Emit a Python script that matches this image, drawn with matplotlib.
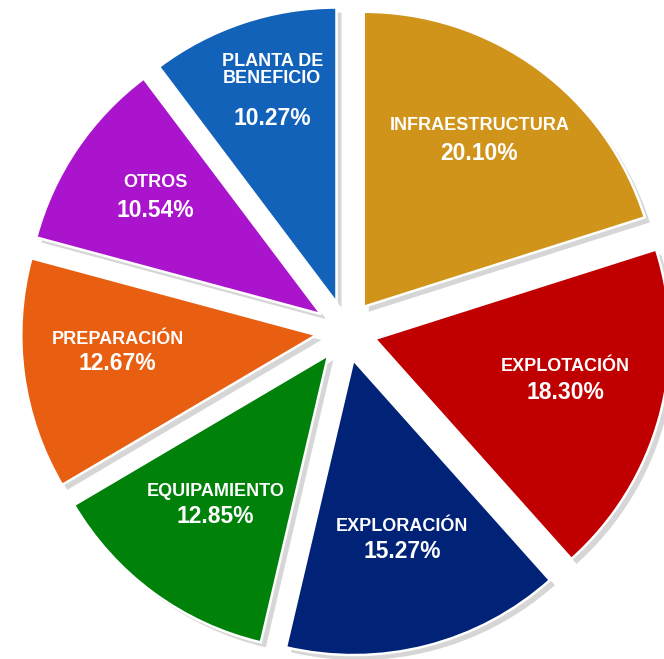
import numpy as np
import matplotlib
matplotlib.use("Agg")
import matplotlib.pyplot as plt
from matplotlib.patches import Shadow

# ---- data ----
categories = ["INFRAESTRUCTURA", "EXPLOTACIÓN", "EXPLORACIÓN", "EQUIPAMIENTO",
              "PREPARACIÓN", "OTROS", "PLANTA DE\nBENEFICIO"]
values = [20.10, 18.30, 15.27, 12.85, 12.67, 10.54, 10.27]
pct_labels = ["20.10%", "18.30%", "15.27%", "12.85%", "12.67%", "10.54%", "10.27%"]

# ---- style ----
colors = ["#D0941A", "#C00000", "#002378", "#00820A", "#E85F12", "#A914CC", "#1262BA"]
label_frac = [0.69, 0.66, 0.627, 0.63, 0.675, 0.69, 0.74]
label_dang = [1.5, 3.4, 0.9, -0.9, -3.1, -1.3, -1.4]
name_dy = [14, 13, 12, 12, 12, 14, 24]
pct_dy = [14, 13, 13, 13, 12, 14, 25]

W, H = 664, 659
fig = plt.figure(figsize=(W / 100, H / 100), dpi=100)
ax = fig.add_axes([0, 0, 1, 1])

cx, cy, R = 346, H - 331, 295
wedges, _ = ax.pie(values, colors=colors, startangle=90, counterclock=False,
                   explode=[30] * len(values), radius=R, center=(cx, cy),
                   wedgeprops=dict(edgecolor="white", linewidth=1.8))

for w in wedges:
    sh = Shadow(w, 3.6, -3.6, facecolor="#d6d6d6", edgecolor="none", alpha=1.0)
    sh.set_zorder(w.get_zorder() - 0.5)
    ax.add_patch(sh)

fam = ["Liberation Sans", "DejaVu Sans"]
for w, name, pct, f, da, ndy, pdy in zip(wedges, categories, pct_labels, label_frac,
                                         label_dang, name_dy, pct_dy):
    th = np.deg2rad((w.theta1 + w.theta2) / 2 + da)
    x0, y0 = w.center
    ax_ = x0 + f * w.r * np.cos(th)
    ay_ = y0 + f * w.r * np.sin(th)
    ax.text(ax_, ay_ + ndy, name, ha="center", va="center", color="white",
            fontsize=13, fontweight="bold", family=fam, linespacing=1.05, zorder=5)
    ax.text(ax_, ay_ - pdy, pct, ha="center", va="center", color="white",
            fontsize=16.5, fontweight="bold", family=fam, zorder=5)

ax.set_xlim(0, W)
ax.set_ylim(0, H)
ax.set_aspect("equal", adjustable="box")
ax.axis("off")
fig.savefig("out.png", dpi=100, facecolor="white")
